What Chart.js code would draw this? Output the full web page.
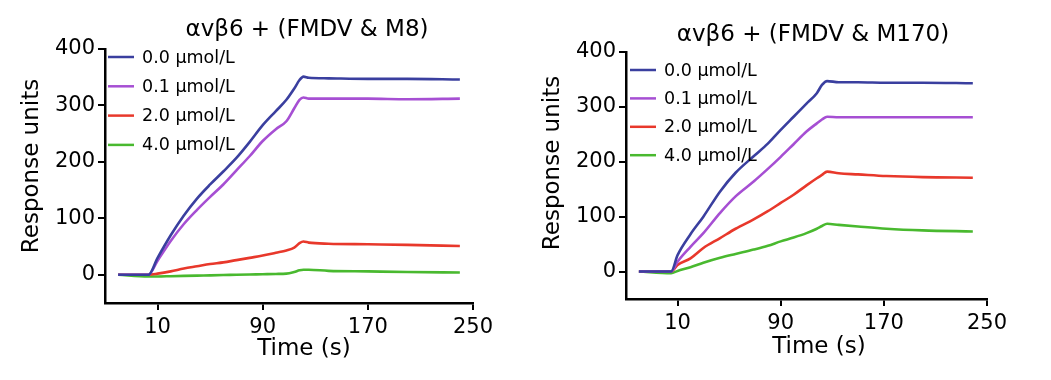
<!DOCTYPE html>
<html lang="en">

<head>
    <meta charset="UTF-8">
    <title>αvβ6 + FMDV binding</title>
    <style>
        body {
            margin: 0;
            background: #fff;
        }

        .panel {
            position: absolute;
            top: 0;
        }

        #chartM8 {
            left: 0;
        }

        #chartM170 {
            left: 521px;
        }
    </style>
</head>

<body>
    <canvas id="chartM8" class="panel" width="500" height="380"></canvas>
    <canvas id="chartM170" class="panel" width="500" height="380"></canvas>

    <script src="https://cdn.jsdelivr.net/npm/chart.js"></script>
    <script>
        const seriesLabels = ['0.0 μmol/L', '0.1 μmol/L', '2.0 μmol/L', '4.0 μmol/L'];
        const xTicks = [10, 90, 170, 250];
        const yTicks = [0, 100, 200, 300, 400];

        // αvβ6 + (FMDV & M8)
        const timeM8 = [-20, 3, 10, 20, 30, 40, 50, 60, 70, 80, 90, 100, 108, 114, 118, 121, 125, 140, 170, 200, 240];
        const m8Conc00 = [0, 0, 30, 70, 105, 135, 160, 183, 207, 235, 265, 290, 310, 330, 345, 351, 349, 348, 347, 347, 346];
        const m8Conc01 = [0, 0, 25, 60, 90, 115, 138, 160, 185, 210, 237, 258, 272, 295, 310, 314, 312, 312, 312, 311, 312];
        const m8Conc20 = [0, 0, 2, 6, 11, 15, 19, 22, 26, 30, 34, 39, 43, 48, 56, 59, 57, 55, 54, 53, 51];
        const m8Conc40 = [0, -3, -3, -2.5, -2, -1.5, -1, -0.5, 0, 0.5, 1, 1.5, 2, 5, 8, 9, 9, 7, 6, 5, 4];

        // αvβ6 + (FMDV & M170)
        const timeM170 = [-20, 5, 10, 20, 30, 43, 55, 69, 80, 90, 100, 110, 118, 122, 126, 135, 150, 172, 200, 239];
        const m170Conc00 = [0, 0, 30, 68, 100, 146, 180, 210, 233, 258, 282, 306, 325, 340, 347, 345, 345, 344, 344, 343];
        const m170Conc01 = [0, 0, 18, 45, 70, 107, 137, 164, 187, 209, 232, 255, 270, 277, 282, 281, 281, 281, 281, 281];
        const m170Conc20 = [0, 0, 12, 24, 43, 61, 78, 95, 110, 125, 140, 157, 170, 176, 182, 179, 177, 174, 172, 171];
        const m170Conc40 = [0, -3, 1, 8, 16, 25, 32, 40, 47, 55, 62, 70, 78, 83, 87, 85, 82, 78, 75, 73];

        const FONT = 'DejaVu Sans';

        // panel title, axis titles and the in-plot legend (short line samples)
        const panelDecor = {
            id: 'panelDecor',
            afterDraw(chart, args, opts) {
                const ctx = chart.ctx;
                ctx.save();
                ctx.fillStyle = '#000';
                ctx.textAlign = 'center';
                ctx.textBaseline = 'middle';
                ctx.font = '23px "DejaVu Sans", sans-serif';
                ctx.fillText(opts.text, opts.titleX, opts.titleY);
                ctx.fillText('Time (s)', opts.xTitleX, opts.xTitleY);

                ctx.save();
                ctx.translate(opts.yTitleX, opts.yTitleY);
                ctx.rotate(-Math.PI / 2);
                ctx.fillText('Response units', 0, 0);
                ctx.restore();

                ctx.font = '17.5px "DejaVu Sans", sans-serif';
                ctx.textAlign = 'left';
                chart.data.datasets.forEach((ds, i) => {
                    const y = opts.legendY + i * opts.legendStep;
                    ctx.strokeStyle = ds.borderColor;
                    ctx.lineWidth = 2.5;
                    ctx.beginPath();
                    ctx.moveTo(opts.legendX, y);
                    ctx.lineTo(opts.legendX + 26, y);
                    ctx.stroke();
                    ctx.fillText(ds.label, opts.legendX + 34, y + 1);
                });
                ctx.restore();
            }
        };

        function makePanel(canvasId, times, seriesValues, decor, box) {
            const lineColors = ['#3a3f9f', '#a64fd3', '#e8382b', '#49b92f'];

            const datasets = seriesValues.map((vals, i) => ({
                label: seriesLabels[i],
                data: times.map((t, j) => ({ x: t, y: vals[j] })),
                borderColor: lineColors[i],
                borderWidth: 2.6,
                pointRadius: 0,
                cubicInterpolationMode: 'monotone',
                fill: false
            }));

            return new Chart(document.getElementById(canvasId), {
                type: 'line',
                data: { datasets: datasets },
                plugins: [panelDecor],
                options: {
                    responsive: false,
                    animation: false,
                    layout: {
                        padding: { left: 0, top: box.top, right: box.right, bottom: 0 }
                    },
                    plugins: {
                        legend: { display: false },
                        tooltip: { enabled: false },
                        panelDecor: decor
                    },
                    scales: {
                        x: {
                            type: 'linear',
                            min: -30,
                            max: 250,
                            afterBuildTicks: (s) => { s.ticks = xTicks.map(v => ({ value: v })); },
                            afterFit: (s) => { s.height = box.xHeight; s.paddingLeft = 0; s.paddingRight = 0; },
                            grid: { drawOnChartArea: false, color: '#000', lineWidth: 2, tickLength: 7 },
                            border: { color: '#000', width: 2.5 },
                            ticks: {
                                color: '#000',
                                font: { family: FONT, size: 21 },
                                padding: 5,
                                maxRotation: 0,
                                autoSkip: false
                            }
                        },
                        y: {
                            min: -50,
                            max: 400,
                            afterBuildTicks: (s) => { s.ticks = yTicks.map(v => ({ value: v })); },
                            afterFit: (s) => { s.width = 105; s.paddingTop = 0; s.paddingBottom = 0; },
                            grid: { drawOnChartArea: false, color: '#000', lineWidth: 2, tickLength: 7 },
                            border: { color: '#000', width: 2.5 },
                            ticks: {
                                color: '#000',
                                font: { family: FONT, size: 21 },
                                padding: 3
                            }
                        }
                    }
                }
            });
        }

        makePanel('chartM8', timeM8, [m8Conc00, m8Conc01, m8Conc20, m8Conc40],
            {
                text: 'αvβ6 + (FMDV & M8)', titleX: 307, titleY: 30,
                xTitleX: 304, xTitleY: 349, yTitleX: 32, yTitleY: 166,
                legendX: 108, legendY: 57, legendStep: 29.3
            },
            { top: 49, right: 27, xHeight: 77 });

        makePanel('chartM170', timeM170, [m170Conc00, m170Conc01, m170Conc20, m170Conc40],
            {
                text: 'αvβ6 + (FMDV & M170)', titleX: 292, titleY: 35,
                xTitleX: 298, xTitleY: 347, yTitleX: 32, yTitleY: 163,
                legendX: 109, legendY: 70, legendStep: 28.4
            },
            { top: 52, right: 34, xHeight: 81 });
    </script>
</body>

</html>
